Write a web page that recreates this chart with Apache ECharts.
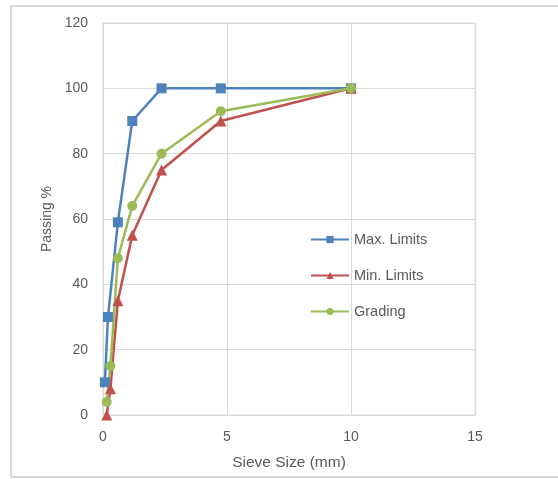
<!DOCTYPE html>
<html><head><meta charset="utf-8">
<script src="https://cdn.jsdelivr.net/npm/echarts@6/dist/echarts.min.js"></script>
<style>html,body{margin:0;padding:0;background:#fff}#c{width:558px;height:479px}</style>
</head><body><div id="c"></div>
<script>
const maxX = [0.075, 0.2, 0.6, 1.18, 2.36, 4.75, 10];
const maxY = [10, 30, 59, 90, 100, 100, 100];
const minX = [0.15, 0.3, 0.6, 1.18, 2.36, 4.75, 10];
const minY = [0, 8, 35, 55, 75, 90, 100];
const gradX = [0.15, 0.3, 0.6, 1.18, 2.36, 4.75, 10];
const gradY = [4, 15, 48, 64, 80, 93, 100];
const seriesNames = ['Max. Limits', 'Min. Limits', 'Grading'];
const xTitle = 'Sieve Size (mm)';
const yTitle = 'Passing %';

const zip = (a, b) => a.map((v, i) => [v, b[i]]);
const font = 'Liberation Sans, Arial, sans-serif';
const txt = '#595959';
const chart = echarts.init(document.getElementById('c'));
chart.setOption({
  animation: false,
  graphic: [{
    type: 'rect', shape: {x: 11, y: 6, width: 600, height: 471},
    style: {fill: 'none', stroke: '#d9d9d9', lineWidth: 2}, silent: true, z: -1
  }],
  grid: {left: 103, right: 83, top: 23, bottom: 64, show: true, borderColor: '#d9d9d9', borderWidth: 1},
  legend: {
    orient: 'vertical', left: 310, top: 232, padding: 0, itemGap: 21, itemWidth: 38, itemHeight: 9,
    textStyle: {color: txt, fontSize: 14.5, fontFamily: font},
    data: seriesNames
  },
  xAxis: {
    type: 'value', min: 0, max: 15, interval: 5,
    name: xTitle, nameLocation: 'middle', nameGap: 40,
    nameTextStyle: {color: txt, fontSize: 15.5, fontFamily: font},
    axisLine: {show: true, lineStyle: {color: '#d9d9d9'}}, axisTick: {show: false},
    axisLabel: {color: txt, fontSize: 14, fontFamily: font, margin: 15},
    splitLine: {show: true, lineStyle: {color: '#d9d9d9'}}
  },
  yAxis: {
    type: 'value', min: 0, max: 120, interval: 20,
    name: yTitle, nameLocation: 'middle', nameGap: 48, nameRotate: 90,
    nameTextStyle: {color: txt, fontSize: 14, fontFamily: font},
    axisLine: {show: true, lineStyle: {color: '#d9d9d9'}}, axisTick: {show: false},
    axisLabel: {color: txt, fontSize: 14, fontFamily: font, margin: 15},
    splitLine: {show: true, lineStyle: {color: '#d9d9d9'}}
  },
  series: [
    {name: seriesNames[0], type: 'line', data: zip(maxX, maxY), symbol: 'rect', symbolSize: 10,
     color: '#4F81BD', lineStyle: {width: 2.5}, itemStyle: {color: '#4F81BD'}},
    {name: seriesNames[1], type: 'line', data: zip(minX, minY), symbol: 'triangle', symbolSize: 11,
     color: '#C0504D', lineStyle: {width: 2.5}, itemStyle: {color: '#C0504D'}},
    {name: seriesNames[2], type: 'line', data: zip(gradX, gradY), symbol: 'circle', symbolSize: 10,
     color: '#9BBB59', lineStyle: {width: 2.5}, itemStyle: {color: '#9BBB59'}}
  ]
});
</script></body></html>
